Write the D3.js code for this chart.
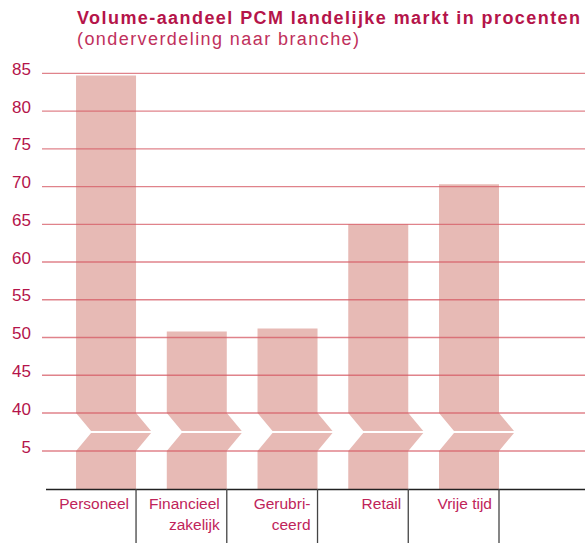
<!DOCTYPE html>
<html>
<head>
<meta charset="utf-8">
<script src="https://cdn.jsdelivr.net/npm/d3@7"></script>
<style>
  body { margin: 0; background: #fff; }
  text { font-family: "Liberation Sans", Arial, sans-serif; }
</style>
</head>
<body>
<svg id="chart" width="585" height="543"></svg>
<script>
'use strict';

// data
var branches = ["Personeel", "Financieel zakelijk", "Gerubriceerd", "Retail", "Vrije tijd"],
    labels   = [["Personeel"], ["Financieel", "zakelijk"], ["Gerubri-", "ceerd"], ["Retail"], ["Vrije tijd"]],
    shares   = [84.7, 50.8, 51.2, 65.0, 70.3],
    ticks    = [5, 40, 45, 50, 55, 60, 65, 70, 75, 80, 85];

var svg = d3.select("#chart"),
    red = "#b5144a",
    barColor = "#e7bab5";

// broken axis: 0..5 below the break, 40..85 above it
var y = d3.scaleLinear()
    .domain([0, 5, 40, 85])
    .range([489, 451, 413, 73.3]);

var x = d3.scaleBand()
    .domain(branches)
    .range([45.3, 499]);

var barW = 60,
    shift = 15,
    yTop = y(40),
    yBot = y(5),
    yMid = (yTop + yBot) / 2;

// title
svg.append("text")
    .attr("x", 77)
    .attr("y", 24)
    .attr("textLength", 503)
    .attr("lengthAdjust", "spacing")
    .style("font-size", "18px")
    .style("font-weight", "bold")
    .style("fill", red)
    .text("Volume-aandeel PCM landelijke markt in procenten");

svg.append("text")
    .attr("x", 77)
    .attr("y", 45)
    .attr("textLength", 282)
    .attr("lengthAdjust", "spacing")
    .style("font-size", "18px")
    .style("fill", "#c0305c")
    .text("(onderverdeling naar branche)");

// bars, each in two pieces with a chevron at the break
var bars = svg.append("g");
branches.forEach(function(b, i) {
  var x1 = x(b) + x.bandwidth(),
      x0 = x1 - barW;
  var upper = [[x0, y(shares[i])], [x1, y(shares[i])], [x1, yTop],
               [x1 + shift, yMid - 1], [x0 + shift, yMid - 1], [x0, yTop]],
      lower = [[x0 + shift, yMid + 1], [x1 + shift, yMid + 1], [x1, yBot],
               [x1, y(0)], [x0, y(0)], [x0, yBot]];
  [upper, lower].forEach(function(p) {
    bars.append("path")
        .attr("d", "M" + p.join("L") + "Z")
        .style("fill", barColor);
  });
});

// gridlines and tick labels
var grid = svg.append("g");
grid.selectAll("line")
    .data(ticks)
  .enter().append("line")
    .attr("x1", 42)
    .attr("x2", 585)
    .attr("y1", function(d) { return y(d); })
    .attr("y2", function(d) { return y(d); })
    .style("stroke", "#d65a64")
    .style("stroke-opacity", 0.75)
    .style("stroke-width", 1.3);

grid.selectAll("text")
    .data(ticks)
  .enter().append("text")
    .attr("x", 31)
    .attr("y", function(d) { return y(d) + 1.5; })
    .attr("text-anchor", "end")
    .style("font-size", "17px")
    .style("fill", red)
    .text(function(d) { return d; });

// baseline and category separators
svg.append("line")
    .attr("x1", 46)
    .attr("x2", 585)
    .attr("y1", y(0) + 0.5)
    .attr("y2", y(0) + 0.5)
    .style("stroke", "#222")
    .style("stroke-width", 1.3);

svg.append("g").selectAll("line")
    .data(branches)
  .enter().append("line")
    .attr("x1", function(d) { return x(d) + x.bandwidth(); })
    .attr("x2", function(d) { return x(d) + x.bandwidth(); })
    .attr("y1", y(0))
    .attr("y2", 543)
    .style("stroke", "#444")
    .style("stroke-width", 1.3);

// category labels
var cats = svg.append("g");
branches.forEach(function(b, i) {
  labels[i].forEach(function(t, j) {
    cats.append("text")
        .attr("x", x(b) + x.bandwidth() - 7)
        .attr("y", 508.5 + j * 21)
        .attr("text-anchor", "end")
        .style("font-size", "15.5px")
        .style("fill", "#c0245a")
        .text(t);
  });
});
</script>
</body>
</html>
